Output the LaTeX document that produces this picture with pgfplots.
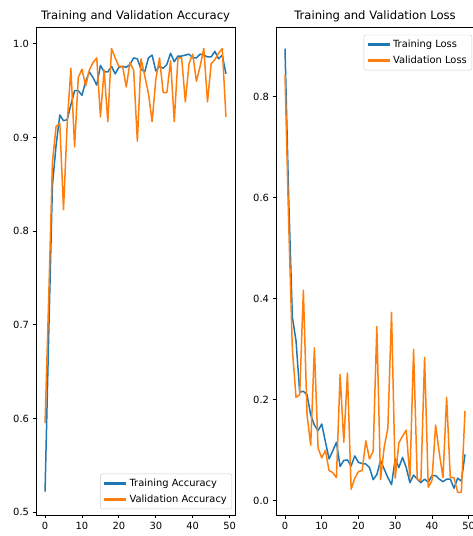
\documentclass[border=0pt]{standalone}
\usepackage{fontspec}
\setmainfont{DejaVu Sans}
\usepackage{pgfplots}
\usepackage{pgfplotstable}
\pgfplotsset{compat=1.18}
\definecolor{c0}{HTML}{1F77B4}
\definecolor{c1}{HTML}{FF7F0E}

\pgfplotstableread{
e tr va
0 0.522 0.595
1 0.690 0.730
2 0.849 0.874
3 0.892 0.912
4 0.924 0.915
5 0.918 0.823
6 0.919 0.915
7 0.935 0.974
8 0.950 0.890
9 0.950 0.964
10 0.945 0.973
11 0.960 0.955
12 0.970 0.972
13 0.964 0.980
14 0.956 0.985
15 0.977 0.922
16 0.970 0.972
17 0.970 0.917
18 0.976 0.995
19 0.968 0.985
20 0.975 0.976
21 0.976 0.976
22 0.975 0.954
23 0.978 0.980
24 0.985 0.972
25 0.984 0.896
26 0.973 0.984
27 0.970 0.966
28 0.985 0.947
29 0.988 0.917
30 0.971 0.962
31 0.976 0.985
32 0.974 0.948
33 0.978 0.948
34 0.990 0.982
35 0.981 0.917
36 0.987 0.985
37 0.987 0.985
38 0.988 0.938
39 0.989 0.979
40 0.985 0.989
41 0.985 0.960
42 0.989 0.976
43 0.988 0.995
44 0.986 0.938
45 0.986 0.979
46 0.992 0.983
47 0.984 0.990
48 0.988 0.995
49 0.968 0.922
}\acc

\pgfplotstableread{
e tr va
0 0.895 0.843
1 0.600 0.550
2 0.364 0.300
3 0.317 0.205
4 0.215 0.210
5 0.217 0.417
6 0.210 0.170
7 0.170 0.110
8 0.150 0.303
9 0.139 0.105
10 0.152 0.085
11 0.117 0.100
12 0.083 0.060
13 0.099 0.056
14 0.116 0.046
15 0.068 0.250
16 0.080 0.116
17 0.081 0.253
18 0.069 0.023
19 0.089 0.045
20 0.076 0.058
21 0.074 0.060
22 0.073 0.119
23 0.066 0.083
24 0.042 0.098
25 0.052 0.345
26 0.080 0.042
27 0.063 0.106
28 0.046 0.144
29 0.032 0.373
30 0.083 0.045
31 0.066 0.115
32 0.086 0.128
33 0.066 0.140
34 0.036 0.045
35 0.051 0.300
36 0.043 0.043
37 0.036 0.040
38 0.043 0.284
39 0.037 0.027
40 0.050 0.040
41 0.050 0.150
42 0.043 0.095
43 0.038 0.046
44 0.043 0.205
45 0.043 0.046
46 0.025 0.046
47 0.045 0.017
48 0.039 0.017
49 0.092 0.178
}\loss

\pgfplotsset{
  mpl/.style={
  scale only axis, width=199pt, height=488pt,
  xmin=-2.45, xmax=51.45, xtick={0,10,20,30,40,50},
  axis line style={black, line width=0.8pt},
  tick align=outside, tick pos=left, major tick length=3.5pt,
  every tick/.style={black, line width=0.8pt},
  tick label style={font=\fontsize{9.9}{11}\selectfont, text=black},
  /pgf/number format/assume math mode=true,
  yticklabel style={/pgf/number format/.cd, fixed, fixed zerofill, precision=1},
  title style={font=\fontsize{11.6}{13}\selectfont, at={(0.5,1)}, anchor=base, yshift=1.5pt},
  legend style={font=\fontsize{9.9}{11}\selectfont, draw=black!20, rounded corners=2pt,
    fill=white, fill opacity=0.8, text opacity=1, draw opacity=1, inner sep=3pt,
    row sep=3pt},
  legend cell align=left,
  every axis plot/.append style={line width=1.5pt, line join=round},
}}

\begin{document}
\begin{tikzpicture}
\begin{axis}[mpl, at={(36pt,21pt)}, anchor=south west,
  ymin=0.497, ymax=1.018, ytick={0.5,0.6,0.7,0.8,0.9,1.0},
  title={Training and Validation Accuracy},
  legend style={at={(0.985,0.012)}, anchor=south east}]
\addplot[c0, legend image code/.code={\draw[c0, line width=2.2pt, opacity=1] (0pt,0pt) -- (22pt,0pt);}] table[x=e, y=tr] {\acc};
\addlegendentry{Training Accuracy}
\addplot[c1, legend image code/.code={\draw[c1, line width=2.2pt, opacity=1] (0pt,0pt) -- (22pt,0pt);}] table[x=e, y=va] {\acc};
\addlegendentry{Validation Accuracy}
\end{axis}
\begin{axis}[mpl, at={(276pt,21pt)}, anchor=south west, width=198pt,
  ymin=-0.028, ymax=0.938, ytick={0,0.2,0.4,0.6,0.8},
  title={Training and Validation Loss},
  legend style={at={(0.99,0.984)}, anchor=north east}]
\addplot[c0, legend image code/.code={\draw[c0, line width=2.2pt, opacity=1] (0pt,0pt) -- (22pt,0pt);}] table[x=e, y=tr] {\loss};
\addlegendentry{Training Loss}
\addplot[c1, legend image code/.code={\draw[c1, line width=2.2pt, opacity=1] (0pt,0pt) -- (22pt,0pt);}] table[x=e, y=va] {\loss};
\addlegendentry{Validation Loss}
\end{axis}
\pgfresetboundingbox
\path[use as bounding box] (0,0) rectangle (473pt,536pt);
\end{tikzpicture}
\end{document}
